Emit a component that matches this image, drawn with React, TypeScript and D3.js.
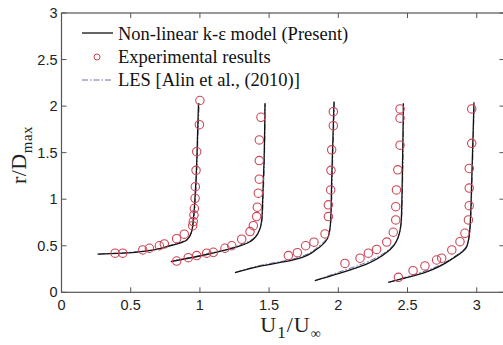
import React from "react";
import * as d3 from "d3";

const xTicks = [0, 0.5, 1, 1.5, 2, 2.5, 3];
const yTicks = [0, 0.5, 1, 1.5, 2, 2.5, 3];
const xTickLabels = ["0", "0.5", "1", "1.5", "2", "2.5", "3"];
const yTickLabels = ["0", "0.5", "1", "1.5", "2", "2.5", "3"];

const legendLabels = ["Non-linear k-\u03B5 model (Present)", "Experimental results", "LES [Alin et al., (2010)]"];

// Non-linear k-eps model (solid), 5 profiles: [x, y]
const model1: [number, number][] = [[0.26, 0.41], [0.45, 0.42], [0.59, 0.44], [0.784, 0.5], [0.904, 0.56], [0.94, 0.65], [0.952, 0.78], [0.965, 1.03], [0.977, 1.39], [0.984, 1.75], [0.99, 2.03]];
const model2: [number, number][] = [[0.79, 0.33], [1.0, 0.39], [1.19, 0.455], [1.34, 0.527], [1.42, 0.634], [1.447, 0.777], [1.454, 1.03], [1.463, 1.39], [1.47, 2.03]];
const model3: [number, number][] = [[1.253, 0.21], [1.436, 0.28], [1.675, 0.347], [1.868, 0.49], [1.928, 0.6], [1.945, 0.777], [1.952, 1.21], [1.969, 2.05]];
const model4: [number, number][] = [[1.83, 0.125], [2.0, 0.2], [2.2, 0.3], [2.36, 0.44], [2.43, 0.58], [2.455, 0.78], [2.462, 1.2], [2.47, 2.03]];
const model5: [number, number][] = [[2.36, 0.107], [2.5, 0.16], [2.638, 0.22], [2.83, 0.366], [2.928, 0.49], [2.95, 0.67], [2.964, 1.21], [2.98, 2.04]];

// LES (dash-dot)
const les1: [number, number][] = [[0.27, 0.41], [0.45, 0.425], [0.6, 0.445], [0.79, 0.505], [0.91, 0.575], [0.945, 0.67], [0.958, 0.8], [0.97, 1.05], [0.98, 1.4], [0.988, 1.75], [0.995, 2.03]];
const les2: [number, number][] = [[0.8, 0.335], [1.0, 0.395], [1.2, 0.465], [1.35, 0.545], [1.425, 0.65], [1.45, 0.79], [1.458, 1.05], [1.466, 1.4], [1.472, 2.03]];
const les3: [number, number][] = [[1.26, 0.215], [1.44, 0.29], [1.68, 0.36], [1.87, 0.51], [1.932, 0.62], [1.948, 0.79], [1.956, 1.22], [1.972, 2.05]];
const les4: [number, number][] = [[1.84, 0.13], [2.0, 0.215], [2.2, 0.32], [2.365, 0.46], [2.435, 0.6], [2.458, 0.8], [2.465, 1.2], [2.472, 2.03]];
const les5: [number, number][] = [[2.37, 0.11], [2.5, 0.17], [2.64, 0.235], [2.835, 0.38], [2.93, 0.51], [2.953, 0.69], [2.967, 1.22], [2.982, 2.04]];

// Experimental results (circles)
const exp1: [number, number][] = [[0.387, 0.42], [0.442, 0.42], [0.587, 0.455], [0.635, 0.473], [0.707, 0.5], [0.743, 0.52], [0.832, 0.576], [0.887, 0.624], [0.948, 0.716], [0.952, 0.76], [0.957, 0.83], [0.96, 0.9], [0.965, 1.01], [0.967, 1.135], [0.972, 1.31], [0.977, 1.51], [0.996, 1.8], [1.0, 2.06]];
const exp2: [number, number][] = [[0.832, 0.336], [0.916, 0.372], [0.977, 0.394], [1.049, 0.42], [1.097, 0.43], [1.181, 0.473], [1.23, 0.5], [1.302, 0.57], [1.362, 0.652], [1.386, 0.716], [1.41, 0.813], [1.415, 0.914], [1.422, 1.065], [1.429, 1.215], [1.429, 1.415], [1.429, 1.637], [1.441, 1.88]];
const exp3: [number, number][] = [[1.639, 0.394], [1.704, 0.426], [1.764, 0.5], [1.824, 0.538], [1.904, 0.627], [1.928, 0.813], [1.928, 0.94], [1.945, 1.1], [1.947, 1.31], [1.952, 1.53], [1.964, 1.79], [1.964, 1.94]];
const exp4: [number, number][] = [[2.048, 0.31], [2.157, 0.366], [2.217, 0.42], [2.277, 0.46], [2.35, 0.54], [2.397, 0.645], [2.415, 0.777], [2.415, 0.92], [2.42, 1.1], [2.43, 1.315], [2.446, 1.58], [2.446, 1.87], [2.446, 1.97]];
const exp5: [number, number][] = [[2.434, 0.161], [2.54, 0.232], [2.626, 0.283], [2.71, 0.347], [2.747, 0.366], [2.82, 0.455], [2.879, 0.544], [2.915, 0.634], [2.94, 0.777], [2.946, 0.93], [2.946, 1.12], [2.946, 1.33], [2.964, 1.6], [2.964, 1.97]];

const modelSeries = [model1, model2, model3, model4, model5];
const lesSeries = [les1, les2, les3, les4, les5];
const expSeries = [exp1, exp2, exp3, exp4, exp5];

const W = 503;
const H = 345;
const left = 61.5;
const right = 504.4;
const top = 13;
const bottom = 292.3;

export default function App() {
  const x = d3.scaleLinear().domain([0, 3.2]).range([left, right]);
  const y = d3.scaleLinear().domain([0, 3]).range([bottom, top]);
  const line = d3
    .line<[number, number]>()
    .x((d) => x(d[0]))
    .y((d) => y(d[1]))
    .curve(d3.curveMonotoneY);

  const tickFont = "Liberation Sans, Arial, sans-serif";
  const serif = "Liberation Serif, Times New Roman, serif";
  const axisColor = "#555";
  const tl = 5;
  const red = "#cc4455";
  const lesColor = "#6a6fa8";

  return (
    <svg width={W} height={H} style={{ position: "absolute", left: 0, top: 0, background: "#fff" }}>
      <rect x={0} y={0} width={W} height={H} fill="#fff" />
      {/* frame */}
      <rect x={left} y={top} width={right - left} height={bottom - top} fill="none" stroke={axisColor} strokeWidth={1.2} />
      {xTicks.map((t, i) => (
        <g key={"xt" + i}>
          <line x1={x(t)} x2={x(t)} y1={bottom} y2={bottom - tl} stroke={axisColor} />
          <line x1={x(t)} x2={x(t)} y1={top} y2={top + tl} stroke={axisColor} />
          <text x={x(t)} y={bottom + 18} fontFamily={tickFont} fontSize={14.5} textAnchor="middle" fill="#222">
            {xTickLabels[i]}
          </text>
        </g>
      ))}
      {yTicks.map((t, i) => (
        <g key={"yt" + i}>
          <line x1={left} x2={left + tl} y1={y(t)} y2={y(t)} stroke={axisColor} />
          <line x1={right} x2={right - tl} y1={y(t)} y2={y(t)} stroke={axisColor} />
          <text x={left - 4} y={y(t) + 5} fontFamily={tickFont} fontSize={14.5} textAnchor="end" fill="#222">
            {yTickLabels[i]}
          </text>
        </g>
      ))}
      {/* axis labels */}
      <text x={291} y={332} fontFamily={serif} fontSize={22} textAnchor="middle" fill="#222" letterSpacing={1}>
        U<tspan fontSize={17} dy={6}>1</tspan>
        <tspan dy={-6}>/U</tspan>
        <tspan fontSize={14} dy={6}>{"\u221E"}</tspan>
      </text>
      <text transform={`translate(26,155) rotate(-90)`} fontFamily={serif} fontSize={22} textAnchor="middle" fill="#222" letterSpacing={0.5}>
        r/D<tspan fontSize={15} dy={6}>max</tspan>
      </text>
      {/* LES lines */}
      {lesSeries.map((s, i) => (
        <path key={"les" + i} d={line(s) || ""} fill="none" stroke={lesColor} strokeWidth={1} strokeDasharray="6,2,1.5,2" />
      ))}
      {/* model lines */}
      {modelSeries.map((s, i) => (
        <path key={"m" + i} d={line(s) || ""} fill="none" stroke="#111" strokeWidth={1.3} />
      ))}
      {/* experimental */}
      {expSeries.map((s, i) => (
        <g key={"e" + i}>
          {s.map((d, j) => (
            <circle key={j} cx={x(d[0])} cy={y(d[1])} r={4.2} fill="none" stroke={red} strokeWidth={1.1} />
          ))}
        </g>
      ))}
      {/* legend */}
      <line x1={82} x2={113} y1={33} y2={33} stroke="#111" strokeWidth={1.3} />
      <text x={118} y={40} fontFamily={serif} fontSize={18.5} fill="#111">{legendLabels[0]}</text>
      <circle cx={97} cy={57} r={3} fill="none" stroke={red} strokeWidth={1} />
      <text x={118} y={63} fontFamily={serif} fontSize={18.5} fill="#111">{legendLabels[1]}</text>
      <line x1={82} x2={113} y1={80} y2={80} stroke={lesColor} strokeWidth={1} strokeDasharray="6,2,1.5,2" />
      <text x={118} y={86} fontFamily={serif} fontSize={18.5} fill="#111">{legendLabels[2]}</text>
    </svg>
  );
}
